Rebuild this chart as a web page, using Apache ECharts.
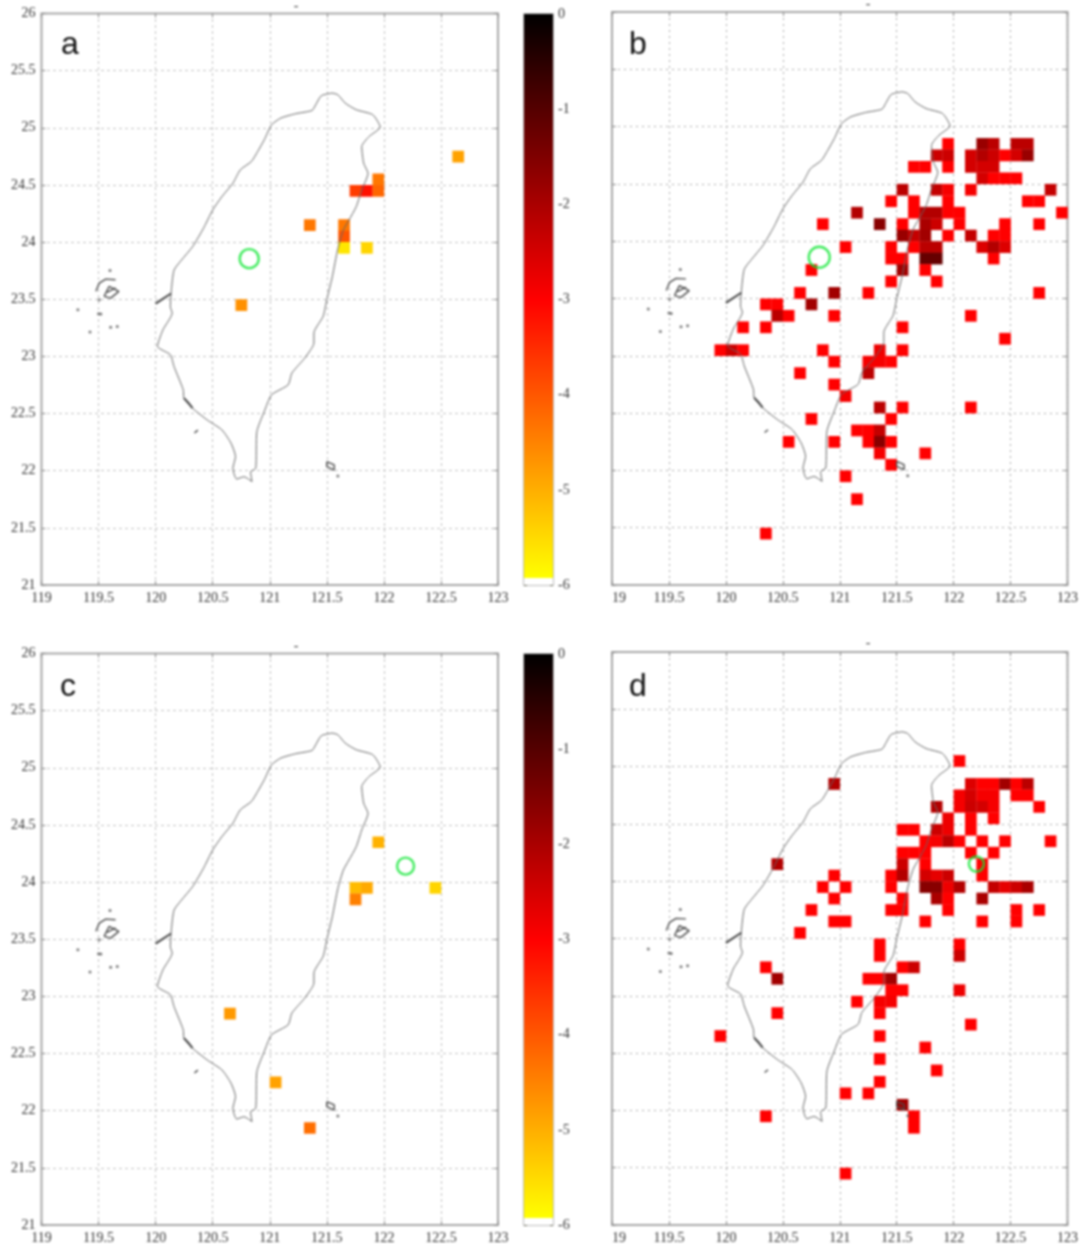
<!DOCTYPE html>
<html>
<head>
<meta charset="utf-8">
<style>
html,body{margin:0;padding:0;background:#fff;}
#main{width:1081px;height:1245px;filter:blur(0.9px);}
</style>
<script src="https://cdn.jsdelivr.net/npm/echarts@6/dist/echarts.min.js"></script>
</head>
<body>
<div id="main"></div>
<script>
// Tick labels
const xTickLabelsLeft = ['119','119.5','120','120.5','121','121.5','122','122.5','123'];
const xTickLabelsRight = ['19','119.5','120','120.5','121','121.5','122','122.5','123'];
const yTickLabels = ['21','21.5','22','22.5','23','23.5','24','24.5','25','25.5','26'];
const colorbarTickLabels = ['-6','-5','-4','-3','-2','-1','0'];
const panelLetters = ['a','b','c','d'];

// Cells: [longitude, latitude, log value]
const cellsA = [
  [120.75,23.45,-4.7],[121.35,24.15,-4.4],[121.65,24.15,-4.4],[121.65,24.05,-4.0],
  [121.65,23.95,-5.7],[121.85,23.95,-5.5],[121.75,24.45,-3.7],[121.85,24.45,-3.2],
  [121.95,24.45,-4.2],[121.95,24.55,-4.4],[122.65,24.75,-4.9]
];
const cellsB = [
  [121.95,24.85,-3],[122.25,24.85,-1.8],[122.35,24.85,-2.2],[122.55,24.85,-2.2],[122.65,24.85,-2.2],
  [121.85,24.75,-2.4],[121.95,24.75,-2.4],[122.15,24.75,-2.5],[122.25,24.75,-2.1],[122.35,24.75,-2.4],[122.45,24.75,-3],[122.55,24.75,-2.5],[122.65,24.75,-1.8],
  [121.65,24.65,-3],[121.75,24.65,-3],[121.95,24.65,-3],[122.15,24.65,-2.5],[122.25,24.65,-2.5],[122.35,24.65,-2.5],
  [122.25,24.55,-2.5],[122.35,24.55,-3],[122.45,24.55,-3],[122.55,24.55,-3],
  [121.55,24.45,-2.2],[121.85,24.45,-2.3],[121.95,24.45,-2.9],[122.15,24.45,-2.9],[122.85,24.45,-2.3],
  [121.45,24.35,-3],[121.65,24.35,-3],[121.95,24.35,-3],[122.65,24.35,-3],[122.75,24.35,-3],
  [121.15,24.25,-2.1],[121.65,24.25,-3],[121.75,24.25,-2.1],[121.85,24.25,-2.1],[121.95,24.25,-3],[122.05,24.25,-3],[122.95,24.25,-3],
  [120.85,24.15,-3],[121.35,24.15,-1.6],[121.55,24.15,-3],[121.75,24.15,-2],[121.85,24.15,-2.4],[122.05,24.15,-3],[122.45,24.15,-3],[122.75,24.15,-3],
  [121.55,24.05,-1.8],[121.65,24.05,-2.3],[121.75,24.05,-1.9],[121.95,24.05,-3],[122.15,24.05,-2.3],[122.35,24.05,-3],[122.45,24.05,-3],
  [121.05,23.95,-3],[121.45,23.95,-3],[121.65,23.95,-3],[121.75,23.95,-2.2],[121.85,23.95,-2.2],[122.25,23.95,-2.6],[122.35,23.95,-2.1],[122.45,23.95,-2.6],
  [121.45,23.85,-3],[121.55,23.85,-3],[121.75,23.85,-1.2],[121.85,23.85,-1.2],[122.35,23.85,-3],
  [120.75,23.75,-3],[121.55,23.75,-1.9],[121.75,23.75,-3],
  [121.45,23.65,-3],[121.85,23.65,-3],
  [120.65,23.55,-3],[120.95,23.55,-1.9],[121.25,23.55,-3],[122.75,23.55,-3],
  [120.35,23.45,-3],[120.45,23.45,-3],[120.75,23.45,-1.9],
  [120.45,23.35,-2.2],[120.55,23.35,-3],[120.95,23.35,-3],[122.15,23.35,-3],
  [120.15,23.25,-3],[120.35,23.25,-3],[121.55,23.25,-3],
  [122.45,23.15,-3],
  [119.95,23.05,-3],[120.05,23.05,-2.4],[120.15,23.05,-3],[120.85,23.05,-3],[121.35,23.05,-2.8],[121.55,23.05,-3],
  [120.95,22.95,-3],[121.25,22.95,-2.9],[121.35,22.95,-2.9],[121.45,22.95,-3],
  [120.65,22.85,-3],[121.25,22.85,-2.2],
  [120.95,22.75,-3],
  [121.05,22.65,-2.9],
  [121.35,22.55,-2.2],[121.55,22.55,-3],[122.15,22.55,-3],
  [120.75,22.45,-3],[121.45,22.45,-3],
  [121.15,22.35,-3],[121.25,22.35,-3],[121.35,22.35,-2.3],
  [120.55,22.25,-3],[120.95,22.25,-3],[121.25,22.25,-3],[121.35,22.25,-1.6],[121.45,22.25,-3],
  [121.35,22.15,-2.9],[121.75,22.15,-3],
  [121.45,22.05,-3],
  [121.05,21.95,-3],
  [121.15,21.75,-3],
  [120.35,21.45,-3]
];
const cellsC = [
  [120.65,22.85,-4.8],[121.05,22.25,-4.9],[121.35,21.85,-4.3],[121.95,24.35,-5.1],
  [121.75,23.95,-5.2],[121.85,23.95,-5.0],[121.75,23.85,-4.5],[122.45,23.95,-5.5]
];
const cellsD = [
  [122.05,25.05,-3],
  [120.95,24.85,-2.1],[122.15,24.85,-2.6],[122.25,24.85,-3],[122.35,24.85,-3],[122.45,24.85,-1.9],[122.55,24.85,-3],[122.65,24.85,-2.2],
  [122.05,24.75,-2.9],[122.15,24.75,-2.5],[122.25,24.75,-2.9],[122.35,24.75,-2.9],[122.55,24.75,-3],[122.65,24.75,-3],
  [121.85,24.65,-2.1],[122.05,24.65,-2.9],[122.15,24.65,-2.4],[122.25,24.65,-2.5],[122.35,24.65,-2.9],[122.75,24.65,-3],
  [121.95,24.55,-2.8],[122.15,24.55,-3],[122.35,24.55,-3],
  [121.55,24.45,-3],[121.65,24.45,-3],[121.85,24.45,-2.4],[121.95,24.45,-2.8],[122.15,24.45,-3],
  [121.75,24.35,-3],[121.85,24.35,-2.9],[121.95,24.35,-2.2],[122.05,24.35,-3],[122.25,24.35,-3],[122.45,24.35,-3],[122.85,24.35,-3],
  [121.55,24.25,-3],[121.65,24.25,-3],[121.75,24.25,-3],[122.15,24.25,-3],[122.35,24.25,-3],
  [120.45,24.15,-2.1],[121.55,24.15,-2.4],[121.75,24.15,-3],[122.25,24.15,-3],
  [120.95,24.05,-3],[121.45,24.05,-3],[121.55,24.05,-2.1],[121.75,24.05,-2.5],[121.85,24.05,-2.7],[121.95,24.05,-2.4],[122.25,24.05,-3],
  [120.85,23.95,-3],[121.05,23.95,-3],[121.45,23.95,-3],[121.75,23.95,-1.6],[121.85,23.95,-1.6],[121.95,23.95,-2.8],[122.05,23.95,-2.1],[122.35,23.95,-2.3],[122.45,23.95,-2.7],[122.55,23.95,-2.4],[122.65,23.95,-2],
  [120.95,23.85,-3],[121.55,23.85,-3],[121.85,23.85,-2],[121.95,23.85,-3],[122.25,23.85,-2],
  [120.75,23.75,-3],[121.45,23.75,-3],[121.55,23.75,-3],[121.95,23.75,-3],[122.55,23.75,-3],[122.75,23.75,-3],
  [120.95,23.65,-3],[121.05,23.65,-3],[121.75,23.65,-3],[122.25,23.65,-3],[122.55,23.65,-3],
  [120.65,23.55,-3],
  [121.35,23.45,-3],[122.05,23.45,-3],
  [121.35,23.35,-3],[122.05,23.35,-2.4],
  [120.35,23.25,-3],[121.55,23.25,-3],[121.65,23.25,-2.4],
  [120.45,23.15,-1.9],[121.25,23.15,-3],[121.35,23.15,-3],[121.45,23.15,-1.9],
  [121.45,23.05,-3],[121.55,23.05,-3],[122.05,23.05,-2.8],
  [121.15,22.95,-3],[121.35,22.95,-2.9],[121.45,22.95,-2.9],
  [120.45,22.85,-3],[121.35,22.85,-3],
  [122.15,22.75,-3],
  [119.95,22.65,-3],[121.35,22.65,-3],
  [121.75,22.55,-3],
  [121.35,22.45,-3],
  [121.85,22.35,-3],
  [121.35,22.25,-3],
  [121.05,22.15,-3],[121.25,22.15,-3],
  [121.55,22.05,-1.9],
  [120.35,21.95,-3],[121.65,21.95,-3],
  [121.65,21.85,-3],
  [121.05,21.45,-3]
];
// Green station circles: [longitude, latitude]
const stationA = [120.82,23.855];
const stationB = [120.82,23.86];
const stationC = [122.19,24.14];
const stationD = [122.2,24.15];
const stationSizes = [19,21,17,15];

// Coast of Taiwan
const coastMain = [
  [121.548,25.304],[121.452,25.281],[121.403,25.202],[121.371,25.152],[121.226,25.123],[121.097,25.085],
  [121.016,25.026],[120.952,24.895],[120.894,24.792],[120.839,24.705],[120.742,24.632],[120.677,24.515],
  [120.581,24.398],[120.5,24.281],[120.419,24.12],[120.323,23.959],[120.226,23.842],[120.161,23.754],
  [120.135,23.55],[120.129,23.433],[120.145,23.38],[120.065,23.234],[120.016,23.088],[120.129,23.015],
  [120.161,22.912],[120.242,22.708],[120.248,22.635],[120.323,22.547],[120.452,22.444],[120.581,22.357],
  [120.661,22.24],[120.7,22.123],[120.677,22.02],[120.71,21.927],[120.774,21.947],[120.845,21.904],
  [120.832,21.99],[120.877,22.02],[120.887,22.342],[120.952,22.518],[121.016,22.664],[121.161,22.751],
  [121.194,22.854],[121.306,22.985],[121.387,23.117],[121.387,23.205],[121.468,23.351],[121.5,23.497],
  [121.548,23.696],[121.597,23.944],[121.645,24.105],[121.694,24.193],[121.758,24.31],[121.806,24.456],
  [121.861,24.602],[121.823,24.69],[121.806,24.836],[121.871,24.924],[121.968,25.006],[121.903,25.114],
  [121.758,25.158],[121.661,25.216],[121.597,25.289],[121.548,25.304]
];
const coastDark = [
  [120.0,23.462],[120.135,23.55],null,
  [120.248,22.635],[120.29,22.59],[120.323,22.547]
];
const islandLines = [
  [119.477,23.569],[119.506,23.641],[119.563,23.676],[119.649,23.671],null,
  [119.549,23.525],[119.592,23.612],[119.678,23.569],[119.606,23.51],[119.549,23.525],null,
  [119.575,23.56],[119.65,23.6],null,
  [120.34,22.33],[120.37,22.355],null,
  [121.5,22.079],[121.565,22.05],[121.565,22.006],[121.5,22.035],[121.5,22.079]
];
const islandDots = [
  [119.6,23.752],[119.506,23.496],[119.319,23.408],[119.5,23.373],[119.52,23.37],[119.425,23.213],
  [119.606,23.254],[119.664,23.262],[121.597,21.953]
];

// Colour scale
const hotColors = ['#ffff00','#ff0000','#000000'];
const colorbarStops = [
  {offset:0,color:'#000000'},{offset:0.5,color:'#ff0000'},
  {offset:0.987,color:'#ffff00'},{offset:0.988,color:'#ffffff'},{offset:1,color:'#ffffff'}
];

const FRAME='#a8a8a8', TXT='#333333', SERIF='"Liberation Serif","Times New Roman",serif';
const grids=[],xAxes=[],yAxes=[],series=[],titles=[],cellSeriesIdx=[];

function addAxes(gridIndex,labels,showY){
  const tick={show:true,inside:true,length:4,lineStyle:{color:'#888',width:1}};
  const xi=xAxes.length, yi=yAxes.length;
  xAxes.push({type:'value',gridIndex,min:119,max:123,interval:0.5,
    axisLine:{show:false},axisTick:tick,
    splitLine:{show:true,lineStyle:{color:'#a6a6a6',type:[2,4],width:1}},
    axisLabel:{show:true,color:TXT,fontFamily:SERIF,fontSize:14,margin:6,hideOverlap:false,
      showMinLabel:true,showMaxLabel:true,alignMinLabel:showY?'center':'left',
      formatter:(v,i)=>labels[Math.round((v-119)*2)]}});
  xAxes.push({type:'value',gridIndex,min:119,max:123,interval:0.5,position:'top',
    axisLine:{show:false},axisTick:tick,splitLine:{show:false},axisLabel:{show:false}});
  yAxes.push({type:'value',gridIndex,min:21,max:26,interval:0.5,
    axisLine:{show:false},axisTick:tick,
    splitLine:{show:true,lineStyle:{color:'#a6a6a6',type:[2,4],width:1}},
    axisLabel:{show:showY,color:TXT,fontFamily:SERIF,fontSize:14,margin:6,
      showMinLabel:true,showMaxLabel:true,formatter:(v)=>yTickLabels[Math.round((v-21)*2)]}});
  yAxes.push({type:'value',gridIndex,min:21,max:26,interval:0.5,position:'right',
    axisLine:{show:false},axisTick:tick,splitLine:{show:false},axisLabel:{show:false}});
  return [xi,yi];
}
function addPanel(box,labels,showY,cells,station,size,letter,letterPos,dashPos){
  const g=grids.length;
  grids.push({left:box[0],top:box[1],width:box[2],height:box[3],show:true,borderColor:FRAME,borderWidth:2,backgroundColor:'#fff',containLabel:false});
  const [xi,yi]=addAxes(g,labels,showY);
  cellSeriesIdx.push(series.length);
  series.push({type:'custom',xAxisIndex:xi,yAxisIndex:yi,data:cells,encode:{x:0,y:1},z:3,silent:true,clip:true,
    renderItem(p,api){
      const c=api.coord([api.value(0),api.value(1)]);
      const s=api.size([0.1,0.1]);
      return {type:'rect',shape:{x:c[0]-s[0]/2,y:c[1]-s[1]/2,width:s[0]+0.3,height:s[1]+0.3},
        style:{fill:api.visual('color')}};
    }});
  const line=(data,color,w,smooth)=>series.push({type:'line',xAxisIndex:xi,yAxisIndex:yi,data:data.map(d=>d===null?[null,null]:d),
    showSymbol:false,symbol:'none',connectNulls:false,smooth:smooth,z:4,silent:true,lineStyle:{color,width:w}});
  line(coastMain,'#666666',1,0.2);
  line(coastDark,'#444444',2,false);
  line(islandLines,'#4c4c4c',1.4,false);
  series.push({type:'scatter',xAxisIndex:xi,yAxisIndex:yi,data:islandDots,symbol:'circle',symbolSize:3,z:4,silent:true,itemStyle:{color:'#5a5a5a'}});
  series.push({type:'scatter',xAxisIndex:xi,yAxisIndex:yi,data:[station],symbol:'circle',symbolSize:size,z:5,silent:true,
    itemStyle:{color:'rgba(0,0,0,0)',borderColor:'#12e636',borderWidth:2.4}});
  titles.push({text:letter,left:letterPos[0],top:letterPos[1],textStyle:{fontFamily:'"Liberation Sans",sans-serif',fontWeight:'normal',fontSize:32,color:'#111'}});
  titles.push({text:'-',left:dashPos[0],textAlign:'center',top:dashPos[1],textStyle:{fontFamily:SERIF,fontWeight:'normal',fontSize:14,color:'#444'}});
}
function addColorbar(left,top){
  const g=grids.length;
  grids.push({left,top,width:29,height:571,show:true,borderColor:FRAME,borderWidth:1.5,backgroundColor:'#fff'});
  const xi=xAxes.length, yi=yAxes.length;
  const tick={show:true,inside:true,length:3,lineStyle:{color:'#665',width:1}};
  xAxes.push({type:'category',gridIndex:g,data:['scale'],show:false});
  yAxes.push({type:'value',gridIndex:g,min:-6,max:0,interval:1,position:'right',
    axisLine:{show:false},axisTick:tick,splitLine:{show:false},
    axisLabel:{show:true,color:TXT,fontFamily:SERIF,fontSize:14,margin:5,showMinLabel:true,showMaxLabel:true,
      formatter:(v)=>colorbarTickLabels[Math.round(v+6)]}});
  yAxes.push({type:'value',gridIndex:g,min:-6,max:0,interval:1,position:'left',
    axisLine:{show:false},axisTick:tick,splitLine:{show:false},axisLabel:{show:false}});
  series.push({type:'bar',xAxisIndex:xi,yAxisIndex:yi,data:[-6],barWidth:'100%',silent:true,z:1,
    itemStyle:{color:{type:'linear',x:0,y:0,x2:0,y2:1,colorStops:colorbarStops}}});
}

addPanel([41.5,13.5,456.5,571.5],xTickLabelsLeft,true,cellsA,stationA,stationSizes[0],panelLetters[0],[56,24],[291,-6]);
addColorbar(524,14);
addPanel([612,12,457.5,573],xTickLabelsRight,false,cellsB,stationB,stationSizes[1],panelLetters[1],[624,24],[863,-8]);
addPanel([41.5,653.5,456.5,571.5],xTickLabelsLeft,true,cellsC,stationC,stationSizes[2],panelLetters[2],[55,666],[291,634]);
addColorbar(524,654);
addPanel([612,652,457.5,573],xTickLabelsRight,false,cellsD,stationD,stationSizes[3],panelLetters[3],[624,666],[863,631]);

const chart=echarts.init(document.getElementById('main'),null,{renderer:'canvas'});
chart.setOption({
  animation:false,backgroundColor:'#fff',
  title:titles,grid:grids,xAxis:xAxes,yAxis:yAxes,series,
  visualMap:{show:false,type:'continuous',min:-6,max:0,dimension:2,seriesIndex:cellSeriesIdx,inRange:{color:hotColors}}
});
</script>
</body>
</html>
